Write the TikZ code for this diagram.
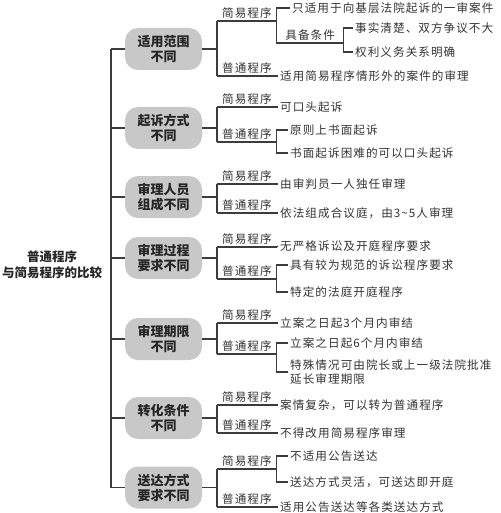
\documentclass[tikz,border=0pt]{standalone}
\usepackage{fontspec}
\usepackage{xcolor}
\usepackage{tikz}
\usetikzlibrary{positioning}
\newfontfamily\cjk[LetterSpace=9]{Noto Sans CJK SC}
\newfontfamily\cjkbox{Noto Sans CJK SC}
\definecolor{boxgray}{HTML}{C8C8C8}
\definecolor{inkgray}{HTML}{3C3C3C}
\tikzstyle{cat} = [rectangle, fill=boxgray, rounded corners=13pt, minimum width=77pt, minimum height=42pt, inner sep=0pt, align=center, font=\cjkbox\bfseries\fontsize{13}{15}\selectfont, text=black!85]
\tikzstyle{lab} = [anchor=south west, inner xsep=5pt, inner ysep=2pt, font=\cjk\fontsize{11.6}{13}\selectfont, text=black!80]
\tikzstyle{leaf} = [anchor=west, inner xsep=2pt, inner ysep=1pt, align=left, font=\cjk\fontsize{11.6}{14}\selectfont, text=black!80]
\tikzstyle{line} = [draw, inkgray, line width=1.1pt]

\begin{document}
\begin{tikzpicture}[x=1pt, y=-1pt]
\useasboundingbox (0,0) rectangle (500,513);
\node [align=center, font=\cjkbox\bfseries\fontsize{12.5}{16}\selectfont, text=black!85] (root) at (52,265) {普通程序\\与简易程序的比较};
% categories
\node [cat] (c1) at (163.5,49) {适用范围\\不同};
\node [cat] (c2) at (163.5,128) {起诉方式\\不同};
\node [cat] (c3) at (163.5,197) {审理人员\\组成不同};
\node [cat] (c4) at (163.5,258) {审理过程\\要求不同};
\node [cat] (c5) at (163.5,339) {审理期限\\不同};
\node [cat] (c6) at (163.5,418) {转化条件\\不同};
\node [cat] (c7) at (163.5,487.5) {送达方式\\要求不同};
\foreach \i/\y in {1/49,2/128,3/197,4/258,5/339,6/418,7/487.5} {
  \coordinate (t\i) at (111,\y);
  \coordinate (f\i) at (217,\y);
}
\path [line] (t1) -- (t7);
\foreach \i in {1,...,7} {
  \path [line] (t\i) -- (c\i.west);
  \path [line] (c\i.east) -- (f\i);
}
% labels
\node [lab] (jy1) at (217,21) {简易程序};
\node [lab] (pt1) at (217,76) {普通程序};
\node [lab] (jy2) at (217,107) {简易程序};
\node [lab] (pt2) at (217,142) {普通程序};
\node [lab] (jy3) at (217,184) {简易程序};
\node [lab] (pt3) at (217,213) {普通程序};
\node [lab] (jy4) at (217,247) {简易程序};
\node [lab] (pt4) at (217,279) {普通程序};
\node [lab] (jy5) at (217,323) {简易程序};
\node [lab] (pt5) at (217,354) {普通程序};
\node [lab] (jy6) at (217,405) {简易程序};
\node [lab] (pt6) at (217,433) {普通程序};
\node [lab] (jy7) at (217,469) {简易程序};
\node [lab] (pt7) at (217,507) {普通程序};
\foreach \i in {1,...,7} {
  \path [line] (jy\i.south west) -- (pt\i.south west);
  \path [line] (jy\i.south west) -- (jy\i.south east);
  \path [line] (pt\i.south west) -- (pt\i.south east);
}
\node [lab, minimum width=66pt, inner xsep=0pt] (jbtj) at (277,43) {具备条件};
% leaves
\node [leaf] (l11) at (290,8) {只适用于向基层法院起诉的一审案件};
\node [leaf] (l12) at (353,28) {事实清楚、双方争议不大};
\node [leaf] (l13) at (353,52) {权利义务关系明确};
\node [leaf] (l14) at (278,76) {适用简易程序情形外的案件的审理};
\node [leaf] (l21) at (278,107) {可口头起诉};
\node [leaf] (l22) at (288,130) {原则上书面起诉};
\node [leaf] (l23) at (288,153) {书面起诉困难的可以口头起诉};
\node [leaf] (l31) at (278,184) {由审判员一人独任审理};
\node [leaf] (l32) at (278,213) {依法组成合议庭，由3\textasciitilde5人审理};
\node [leaf] (l41) at (278,246) {无严格诉讼及开庭程序要求};
\node [leaf] (l42) at (288,265) {具有较为规范的诉讼程序要求};
\node [leaf] (l43) at (288,292) {特定的法庭开庭程序};
\node [leaf] (l51) at (278,323) {立案之日起3个月内审结};
\node [leaf] (l52) at (288,343) {立案之日起6个月内审结};
\node [leaf] (l53) at (288,372) {特殊情况可由院长或上一级法院批准\\延长审理期限};
\node [leaf] (l61) at (278,405) {案情复杂，可以转为普通程序};
\node [leaf] (l62) at (278,433) {不得改用简易程序审理};
\node [leaf] (l71) at (288,456) {不适用公告送达};
\node [leaf] (l72) at (288,482) {送达方式灵活，可送达即开庭};
\node [leaf] (l73) at (278,507) {适用公告送达等各类送达方式};
% brackets
\path [line] (l11.west) -| (jy1.south east) |- (jbtj.south east);
\path [line] (l12.west) -| (jbtj.south east) |- (l13.west);
\path [line] (pt1.south east) -- (l14.west);
\path [line] (jy2.south east) -- (l21.west);
\path [line] (l22.west) -| (pt2.south east) |- (l23.west);
\path [line] (jy3.south east) -- (l31.west);
\path [line] (pt3.south east) -- (l32.west);
\path [line] (jy4.south east) -- (l41.west);
\path [line] (l42.west) -| (pt4.south east) |- (l43.west);
\path [line] (jy5.south east) -- (l51.west);
\path [line] (l52.west) -| (pt5.south east) |- (l53.west);
\path [line] (jy6.south east) -- (l61.west);
\path [line] (pt6.south east) -- (l62.west);
\path [line] (l71.west) -| (jy7.south east) |- (l72.west);
\path [line] (pt7.south east) -- (l73.west);
\end{tikzpicture}
\end{document}
